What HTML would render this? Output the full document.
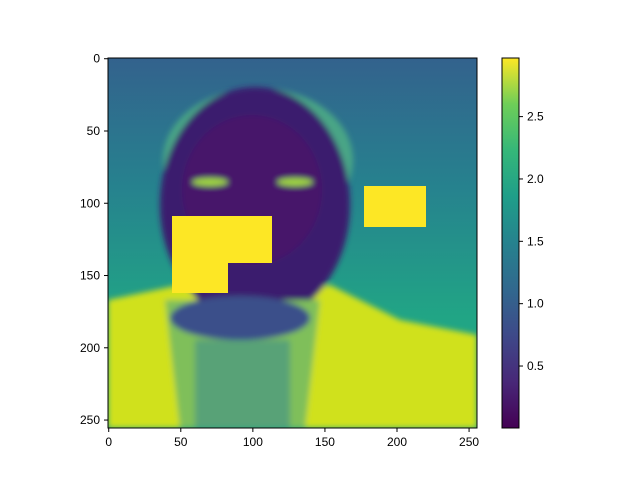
<!DOCTYPE html>
<html><head><meta charset="utf-8"><style>
body{margin:0;background:#fff;}
svg text{font-family:"Liberation Sans",sans-serif;font-size:12px;fill:#000;}
</style></head><body>
<svg width="640" height="480" viewBox="0 0 640 480">
<defs>
<linearGradient id="bg" x1="0" y1="0" x2="0" y2="1">
<stop offset="0" stop-color="#33628d"/><stop offset="0.35" stop-color="#26828e"/><stop offset="0.7" stop-color="#21a585"/><stop offset="1" stop-color="#22a884"/></linearGradient>
<linearGradient id="cb" x1="0" y1="1" x2="0" y2="0">
<stop offset="0" stop-color="#440154"/><stop offset="0.125" stop-color="#482878"/><stop offset="0.25" stop-color="#3e4989"/><stop offset="0.375" stop-color="#31688e"/><stop offset="0.5" stop-color="#26828e"/><stop offset="0.625" stop-color="#1f9e89"/><stop offset="0.75" stop-color="#35b779"/><stop offset="0.875" stop-color="#6ece58"/><stop offset="1" stop-color="#fde725"/></linearGradient>
<filter id="bl"><feGaussianBlur stdDeviation="3"/></filter>
<clipPath id="cp"><rect x="108" y="58" width="369" height="370"/></clipPath>
</defs>
<g clip-path="url(#cp)">
<rect x="108" y="58" width="369" height="370" fill="url(#bg)"/>
<g filter="url(#bl)">
<path d="M108 300 L180 285 L260 300 L330 285 L400 320 L477 335 L477 428 L108 428 Z" fill="#d0e11c"/>
<ellipse cx="258" cy="160" rx="95" ry="72" fill="#4aa586"/>
<ellipse cx="255" cy="205" rx="95" ry="118" fill="#3a1f6e"/>
<ellipse cx="252" cy="190" rx="70" ry="75" fill="#46126a"/>
<path d="M165 300 L320 300 L305 428 L180 428 Z" fill="#7fbf5a"/>
<ellipse cx="240" cy="318" rx="70" ry="22" fill="#3b4f8a"/>
<rect x="195" y="340" width="95" height="88" fill="#3f8f8a" opacity="0.6"/>
<ellipse cx="210" cy="182" rx="18" ry="4" fill="#a0d83e"/>
<ellipse cx="295" cy="182" rx="18" ry="4" fill="#a0d83e"/>
</g>
<g>
<rect x="172" y="216" width="56" height="77" fill="#fde725"/>
<rect x="172" y="216" width="100" height="47" fill="#fde725"/>
<rect x="364" y="186" width="62" height="41" fill="#fde725"/>
</g>
</g>
<rect x="108" y="58" width="369" height="370" fill="none" stroke="#000" stroke-width="1"/>
<g id="xt"></g>
<g id="yt"></g>
<rect x="502" y="58" width="17" height="370" fill="url(#cb)" stroke="#000" stroke-width="1"/>
<g id="ct"></g>
</svg>
<script>
const xTicks=[0,50,100,150,200,250];
const yTicks=[0,50,100,150,200,250];
const cTicks=[0.5,1.0,1.5,2.0,2.5];
const cMin=0.003, cMax=2.97;
const NS="http://www.w3.org/2000/svg";
function px(v){return 108+(v+0.5)*369/256;}
function py(v){return 58+(v+0.5)*370/256;}
function pc(v){return 428-(v-cMin)/(cMax-cMin)*370;}
function mk(t,a,p){const e=document.createElementNS(NS,t);for(const k in a)e.setAttribute(k,a[k]);p.appendChild(e);return e;}
const xt=document.getElementById('xt'),yt=document.getElementById('yt'),ct=document.getElementById('ct');
xTicks.forEach(v=>{const x=px(v);
mk('line',{x1:x,x2:x,y1:428,y2:432,stroke:'#000'},xt);
const t=mk('text',{x:x,y:446,'text-anchor':'middle'},xt);t.textContent=v;

});
yTicks.forEach(v=>{const y=py(v);
mk('line',{x1:104,x2:108,y1:y,y2:y,stroke:'#000'},yt);
const t=mk('text',{x:100,y:y+4,'text-anchor':'end'},yt);t.textContent=v;

});
cTicks.forEach(v=>{const y=pc(v);
mk('line',{x1:519,x2:523,y1:y,y2:y,stroke:'#000'},ct);
const t=mk('text',{x:527,y:y+4},ct);t.textContent=v.toFixed(1);

});
</script>
</body></html>
